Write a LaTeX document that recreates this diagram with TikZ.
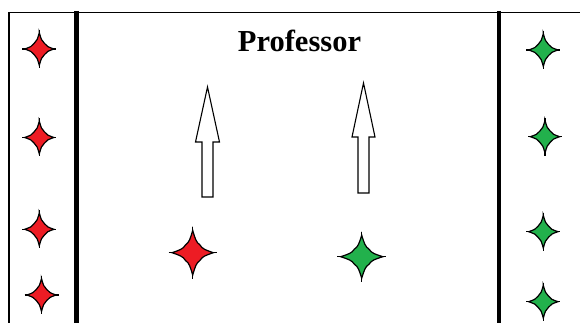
\documentclass[tikz,border=0pt]{standalone}
\usepackage{fontspec}
\setmainfont{Liberation Serif}
\definecolor{starred}{HTML}{ED1C24}
\definecolor{stargreen}{HTML}{22B14C}
\begin{document}
\begin{tikzpicture}[x=1pt,y=-1pt,
  thinframe/.style={draw=black,line width=1.3pt},
  thickbar/.style={draw=black,line width=4.6pt},
  blockarrow/.style={draw=black,fill=white,line width=1.1pt,line join=miter},
  pics/fourstar/.style={code={
    \draw[black,line width=1.1pt] (-1,0) -- (1,0) (0,-1) -- (0,1);
    \draw[black,line width=1.2pt,fill=#1]
      (0,-0.86) .. controls (0.1,-0.55) and (0.14,-0.4) .. (0.3,-0.3)
      .. controls (0.4,-0.14) and (0.55,-0.1) .. (0.86,0)
      .. controls (0.55,0.1) and (0.4,0.14) .. (0.3,0.3)
      .. controls (0.14,0.4) and (0.1,0.55) .. (0,0.86)
      .. controls (-0.1,0.55) and (-0.14,0.4) .. (-0.3,0.3)
      .. controls (-0.4,0.14) and (-0.55,0.1) .. (-0.86,0)
      .. controls (-0.55,-0.1) and (-0.4,-0.14) .. (-0.3,-0.3)
      .. controls (-0.14,-0.4) and (-0.1,-0.55) .. cycle;
  }}]
\useasboundingbox (0,0) rectangle (580,323);
\fill[white] (0,0) rectangle (580,323);
% frame
\draw[thinframe] (9,323) -- (9,12.5) -- (580,12.5);
\draw[thickbar] (76.5,11) -- (76.5,323);
\draw[thickbar] (499,11) -- (499,323);
% title
\node[font=\bfseries\fontsize{30.5}{33}\selectfont,text=black,anchor=base] (title) at (299.5,51.7) {Professor};
% arrows
\draw[blockarrow] (202,197) -- (202,142) -- (195.5,142) -- (207.5,87) -- (219.5,142) -- (213,142) -- (213,197) -- cycle;
\draw[blockarrow] (358,193) -- (358,137) -- (352,137) -- (363.5,83) -- (375,137) -- (369,137) -- (369,193) -- cycle;
% left stars
\foreach \y/\x in {49/39.3,137.5/39.3,229.3/39.3,295/41.5}
  \pic[xscale=17,yscale=19] at (\x,\y) {fourstar=starred};
% right stars
\foreach \y/\x in {50/543.3,136.7/545,231.7/543.3,301.7/543.3}
  \pic[xscale=17,yscale=19] at (\x,\y) {fourstar=stargreen};
% middle stars
\pic[xscale=24,yscale=26] at (192.7,252.7) {fourstar=starred};
\pic[xscale=24.5,yscale=25] at (361.7,256.7) {fourstar=stargreen};
\end{tikzpicture}
\end{document}
